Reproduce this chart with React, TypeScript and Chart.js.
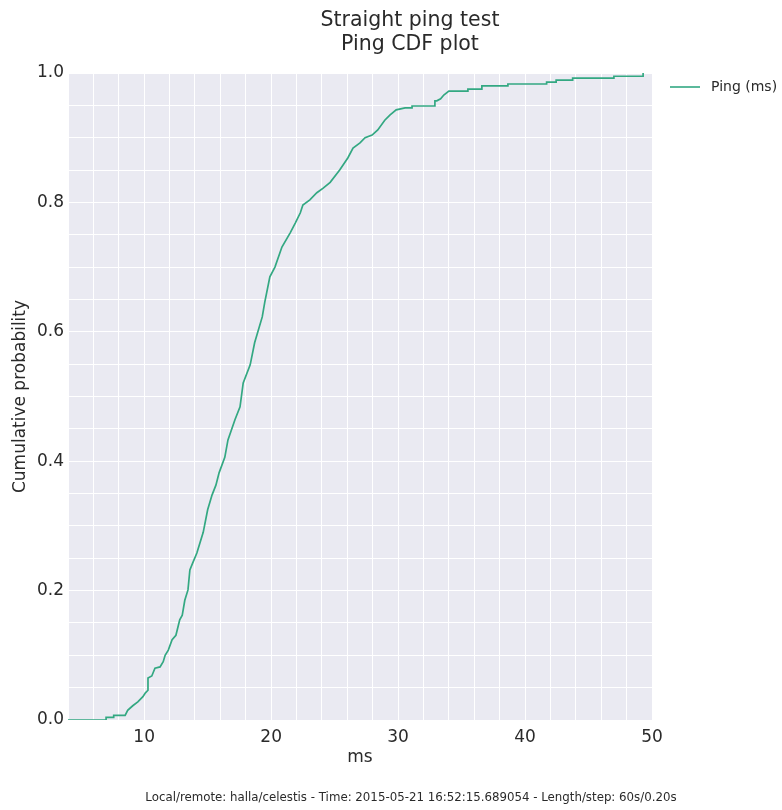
import React, { useEffect, useRef } from 'react';
import { Chart, registerables } from 'chart.js';

Chart.register(...registerables);

// ---- data ----
const pingMs = [
  4.0, 7.0, 7.0, 7.6, 7.6, 8.5, 8.7, 9.1, 9.5, 9.9, 10.1, 10.3, 10.3, 10.6, 10.85, 11.25, 11.5, 11.65, 11.9,
  12.2, 12.5, 12.8, 13.0, 13.2, 13.45, 13.6, 13.85, 14.15, 14.65, 15.0, 15.35, 15.65, 15.9, 16.35, 16.6,
  17.15, 17.55, 17.8, 18.35, 18.7, 19.3, 19.5, 19.9, 20.3, 20.85, 21.5, 21.9, 22.3, 22.5, 23.05, 23.6,
  24.1, 24.65, 25.4, 26.05, 26.45, 27.0, 27.4, 27.95, 28.4, 28.95, 29.35, 29.85, 30.55, 31.1, 31.1,
  32.9, 32.9, 33.05, 33.35, 33.6, 34.0, 35.5, 35.5, 36.6, 36.6, 38.65, 38.65, 41.7, 41.7, 42.45, 42.45,
  43.75, 43.75, 47.0, 47.0, 49.3, 49.3,
];
const cumulativeProb = [
  0, 0, 0.004, 0.004, 0.007, 0.007, 0.015, 0.022, 0.028, 0.036, 0.042, 0.046, 0.065, 0.068, 0.08, 0.082, 0.09, 0.1, 0.108,
  0.124, 0.131, 0.155, 0.162, 0.185, 0.201, 0.232, 0.244, 0.258, 0.29, 0.325, 0.348, 0.363, 0.382, 0.406, 0.433,
  0.464, 0.484, 0.521, 0.549, 0.583, 0.623, 0.646, 0.685, 0.7, 0.731, 0.753, 0.768, 0.784, 0.796, 0.804, 0.815,
  0.822, 0.831, 0.85, 0.869, 0.884, 0.892, 0.9, 0.904, 0.912, 0.927, 0.935, 0.943, 0.946, 0.946, 0.949,
  0.949, 0.957, 0.957, 0.96, 0.966, 0.972, 0.972, 0.975, 0.975, 0.98, 0.98, 0.983, 0.983, 0.986, 0.986, 0.989,
  0.989, 0.992, 0.992, 0.995, 0.995, 1.0,
];
const xTickLabels = [10, 20, 30, 40, 50];
const yTickLabels = [0, 0.2, 0.4, 0.6, 0.8, 1.0];
const titleLines = ['Straight ping test', 'Ping CDF plot'];
const seriesLabel = 'Ping (ms)';
const xAxisLabel = 'ms';
const yAxisLabel = 'Cumulative probability';
const footerText = 'Local/remote: halla/celestis - Time: 2015-05-21 16:52:15.689054 - Length/step: 60s/0.20s';

const FONT = '"DejaVu Sans", Verdana, sans-serif';
const TEXT = '#2a2a2a';
const LINE = '#33a882';

export default function App() {
  const ref = useRef<HTMLCanvasElement | null>(null);

  useEffect(() => {
    document.body.style.margin = '0';
    const canvas = ref.current;
    if (!canvas) return;

    const decor = {
      id: 'decor',
      beforeDraw(chart: any) {
        const { ctx, chartArea } = chart;
        ctx.save();
        ctx.fillStyle = '#EAEAF2';
        ctx.fillRect(chartArea.left, chartArea.top, chartArea.right - chartArea.left, chartArea.bottom - chartArea.top);
        ctx.restore();
      },
      afterDraw(chart: any) {
        const { ctx } = chart;
        ctx.save();
        ctx.fillStyle = TEXT;
        ctx.textAlign = 'center';
        ctx.textBaseline = 'alphabetic';
        ctx.font = `20.5px ${FONT}`;
        ctx.fillText(titleLines[0], 410, 26);
        ctx.fillText(titleLines[1], 410, 50);
        ctx.font = `11.8px ${FONT}`;
        ctx.fillText(footerText, 411, 801);
        // legend
        ctx.strokeStyle = LINE;
        ctx.lineWidth = 1.6;
        ctx.beginPath();
        ctx.moveTo(670, 87);
        ctx.lineTo(700, 87);
        ctx.stroke();
        ctx.textAlign = 'left';
        ctx.textBaseline = 'middle';
        ctx.font = `14px ${FONT}`;
        ctx.fillText(seriesLabel, 711, 87);
        ctx.restore();
      },
    };

    const chart = new Chart(canvas, {
      type: 'line',
      data: {
        datasets: [
          {
            label: seriesLabel,
            data: pingMs.map((x, i) => ({ x, y: cumulativeProb[i] })),
            borderColor: LINE,
            borderWidth: 1.7,
            pointRadius: 0,
            tension: 0,
            fill: false,
          },
        ],
      },
      options: {
        animation: false,
        responsive: false,
        maintainAspectRatio: false,
        layout: { padding: { left: 0, top: 73, right: 130, bottom: 30 } },
        plugins: { legend: { display: false }, title: { display: false }, tooltip: { enabled: false } },
        scales: {
          x: {
            type: 'linear',
            min: 4,
            max: 50,
            afterFit: (s: any) => { s.height = 60; },
            border: { display: false },
            grid: { color: '#ffffff', lineWidth: 1, drawTicks: false },
            ticks: {
              stepSize: 2,
              autoSkip: false,
              maxRotation: 0,
              padding: 7,
              color: TEXT,
              font: { family: FONT, size: 17 },
              callback: (v: any) => (xTickLabels.includes(Number(v)) ? String(v) : ''),
            },
            title: { display: true, text: xAxisLabel, color: TEXT, font: { family: FONT, size: 17 }, padding: { top: 0, bottom: 12 } },
          },
          y: {
            type: 'linear',
            min: 0,
            max: 1,
            afterFit: (s: any) => { s.width = 68; },
            border: { display: false },
            grid: { color: '#ffffff', lineWidth: 1, drawTicks: false },
            ticks: {
              stepSize: 0.05,
              autoSkip: false,
              padding: 4,
              color: TEXT,
              font: { family: FONT, size: 17 },
              callback: (v: any) => {
                const n = Number(v);
                const hit = yTickLabels.find((t) => Math.abs(t - n) < 1e-6);
                return hit === undefined ? '' : hit.toFixed(1);
              },
            },
            title: { display: true, text: yAxisLabel, color: TEXT, font: { family: FONT, size: 17 }, padding: { top: 10, bottom: 0 } },
          },
        },
      },
      plugins: [decor],
    });

    return () => chart.destroy();
  }, []);

  return (
    <div style={{ width: 782, height: 810, position: 'relative' }}>
      <canvas ref={ref} width={782} height={810} style={{ display: 'block', width: 782, height: 810 }} />
    </div>
  );
}
